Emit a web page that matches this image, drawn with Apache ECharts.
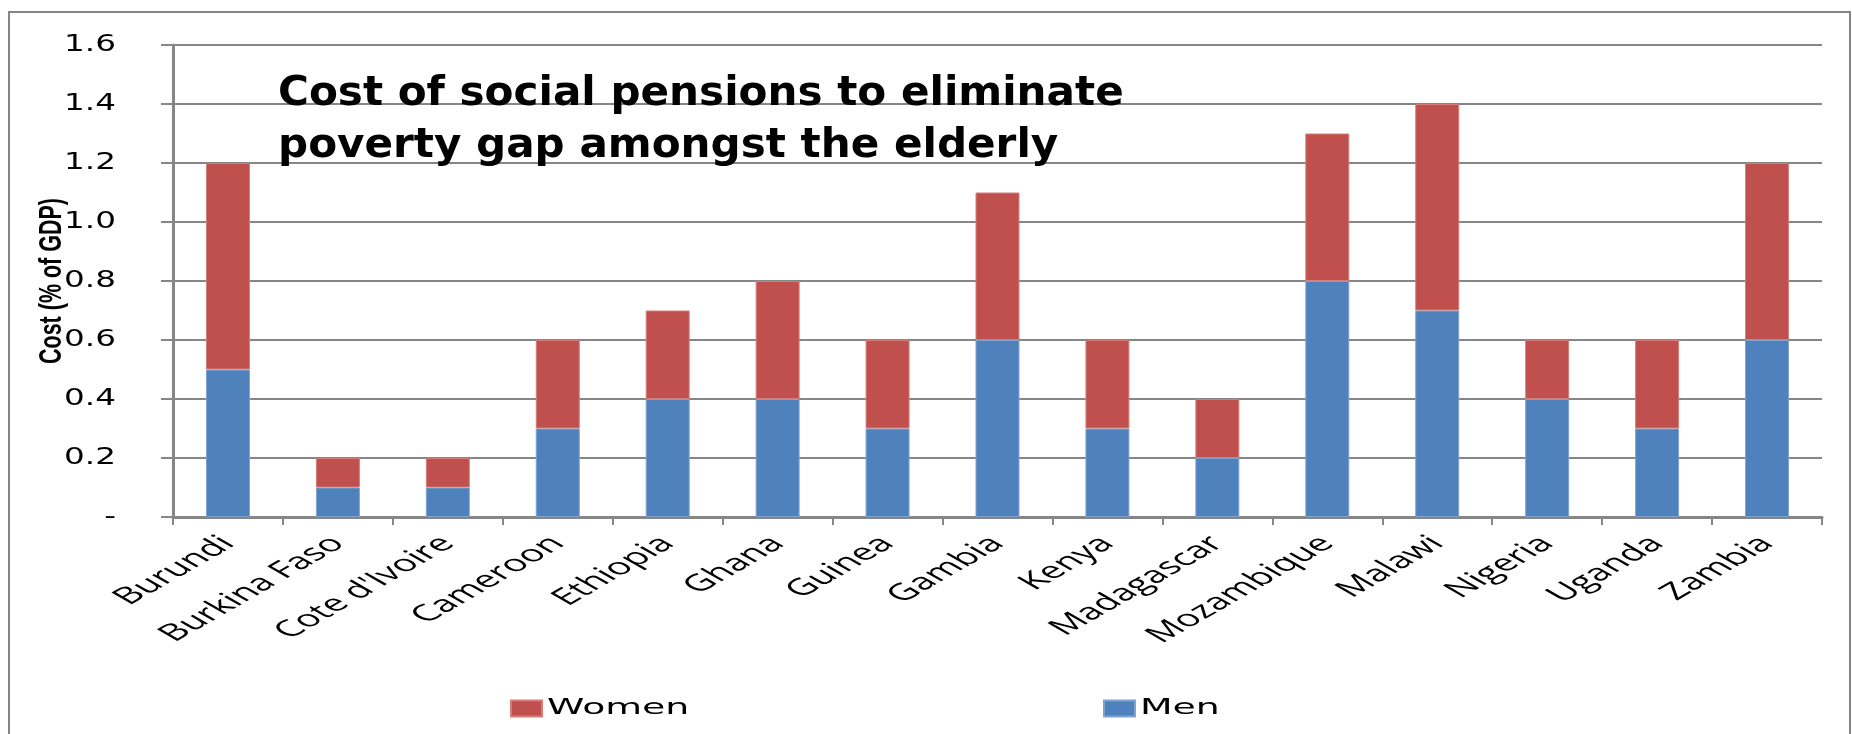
<!DOCTYPE html>
<html>
<head>
<meta charset="utf-8">
<style>
  html, body { margin: 0; padding: 0; background: #fff; }
  #chart { width: 1852px; height: 734px; }
</style>
<script src="https://cdn.jsdelivr.net/npm/echarts@6/dist/echarts.min.js"></script>
</head>
<body>
<div id="chart"></div>
<script>
// Countries along the horizontal axis
const countries = ['Burundi', 'Burkina Faso', "Cote d'Ivoire", 'Cameroon', 'Ethiopia', 'Ghana', 'Guinea',
  'Gambia', 'Kenya', 'Madagascar', 'Mozambique', 'Malawi', 'Nigeria', 'Uganda', 'Zambia'];

// Cost of pensions, % of GDP (stacked: men at the bottom, women on top)
const men   = [0.5, 0.1, 0.1, 0.3, 0.4, 0.4, 0.3, 0.6, 0.3, 0.2, 0.8, 0.7, 0.4, 0.3, 0.6];
const women = [0.7, 0.1, 0.1, 0.3, 0.3, 0.4, 0.3, 0.5, 0.3, 0.2, 0.5, 0.7, 0.2, 0.3, 0.6];

// Value axis ticks
const yTicks = [0, 0.2, 0.4, 0.6, 0.8, 1.0, 1.2, 1.4, 1.6];

const titleLines = ['Cost of social pensions to eliminate', 'poverty gap amongst the elderly'];

const RED = '#C0504D';
const BLUE = '#4F81BD';
const GRID_GREY = '#868686';

// Text sizes per role; each size also selects a horizontal glyph width below.
const SIZE = { yLabel: 22.5, xLabel: 23, legend: 21, axisName: 21.5, title: 40 };
const GLYPH_WIDTH = { '22.5': 1.45, '23': 1.75, '21': 1.8, '21.5': 1.5, '40': 1.17 };

// Draw text wider on screen, pivoting on the text's anchor point,
// so that right-aligned and rotated labels stay attached to their ticks.
(function () {
  const proto = CanvasRenderingContext2D.prototype;
  const fill = proto.fillText;
  proto.fillText = function (text, x, y, maxWidth) {
    const m = /(\d+(?:\.\d+)?)px/.exec(this.font || '');
    const k = m ? (GLYPH_WIDTH[String(parseFloat(m[1]))] || 1) : 1;
    if (k === 1) {
      return maxWidth === undefined ? fill.call(this, text, x, y) : fill.call(this, text, x, y, maxWidth);
    }
    const t = this.getTransform();
    const px = t.a * x + t.c * y + t.e;
    this.save();
    this.setTransform(k * t.a, t.b, k * t.c, t.d, k * t.e + (1 - k) * px, t.f);
    if (maxWidth === undefined) fill.call(this, text, x, y); else fill.call(this, text, x, y, maxWidth);
    this.restore();
  };
})();

const chart = echarts.init(document.getElementById('chart'));

chart.setOption({
  backgroundColor: '#ffffff',
  animation: false,
  grid: { left: 173, right: 30, top: 45, bottom: 217, containLabel: false },
  legend: [
    {
      data: ['Women'], left: 505, top: 693, itemWidth: 31, itemHeight: 16, itemGap: 0,
      icon: 'rect',
      textStyle: { fontFamily: 'DejaVu Sans', fontSize: SIZE.legend, color: '#000' }
    },
    {
      data: ['Men'], left: 1098, top: 693, itemWidth: 31, itemHeight: 16, itemGap: 0,
      icon: 'rect',
      textStyle: { fontFamily: 'DejaVu Sans', fontSize: SIZE.legend, color: '#000' }
    }
  ],
  xAxis: {
    type: 'category',
    data: countries,
    axisLine: { show: true, lineStyle: { color: GRID_GREY, width: 3 } },
    axisTick: { show: true, alignWithLabel: false, length: 8, lineStyle: { color: GRID_GREY, width: 2 } },
    axisLabel: {
      interval: 0, rotate: 45, margin: 23,
      fontFamily: "'Open Sans', 'DejaVu Sans'", fontSize: SIZE.xLabel, color: '#000'
    },
    splitLine: { show: false }
  },
  yAxis: {
    type: 'value',
    min: yTicks[0], max: yTicks[yTicks.length - 1], interval: 0.2,
    name: 'Cost (% of GDP)',
    nameLocation: 'middle', nameRotate: 90, nameGap: 110,
    nameTextStyle: {
      fontFamily: "'Liberation Sans Narrow', 'Liberation Sans'", fontWeight: 'bold',
      fontSize: SIZE.axisName, color: '#000'
    },
    axisLine: { show: true, lineStyle: { color: GRID_GREY, width: 3 } },
    axisTick: { show: true, inside: false, length: 12, lineStyle: { color: GRID_GREY, width: 2 } },
    axisLabel: {
      margin: 57,
      fontFamily: 'DejaVu Sans', fontSize: SIZE.yLabel, color: '#000',
      formatter: v => (Math.abs(v) < 1e-9 ? '-' : v.toFixed(1))
    },
    splitLine: { show: true, lineStyle: { color: GRID_GREY, width: 2 } }
  },
  series: [
    {
      name: 'Men', type: 'bar', stack: 'cost', data: men, barWidth: '40%',
      itemStyle: { color: BLUE, borderColor: '#7fa3d0', borderWidth: 1 }
    },
    {
      name: 'Women', type: 'bar', stack: 'cost', data: women, barWidth: '40%',
      itemStyle: { color: RED, borderColor: '#d67d7a', borderWidth: 1 }
    }
  ],
  graphic: [
    {
      type: 'rect', silent: true, z: -1,
      shape: { x: 9, y: 12, width: 1841, height: 800 },
      style: { fill: null, stroke: GRID_GREY, lineWidth: 2 }
    },
    {
      type: 'text', left: 278, top: 69, z: 10,
      style: {
        text: titleLines.join('\n'),
        fontFamily: "'DejaVu Sans Condensed', 'DejaVu Sans'", fontWeight: 'bold',
        fontSize: SIZE.title, lineHeight: 52, fill: '#000'
      }
    }
  ]
});
</script>
</body>
</html>
